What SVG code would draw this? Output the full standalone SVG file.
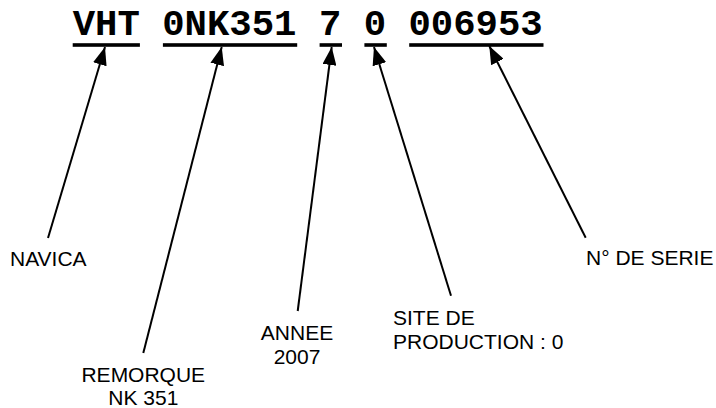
<svg xmlns="http://www.w3.org/2000/svg" width="716" height="408" viewBox="0 0 716 408">
<defs>
<style>
.code{font-family:"Liberation Mono","Courier New",monospace;font-weight:bold;font-size:37.3px;fill:#000}
.lbl{font-family:"Liberation Sans",Arial,sans-serif;font-size:21px;fill:#000}
.bar{fill:#000}
.conn line{stroke:#000;stroke-width:2;marker-end:url(#ah)}
</style>
<marker id="ah" markerUnits="userSpaceOnUse" markerWidth="18" markerHeight="14" refX="18" refY="7" orient="auto">
<path d="M0,0 L18,7 L0,14 z" fill="#000"/>
</marker>
</defs>
<rect width="716" height="408" fill="#fff"/>
<g id="code">
<text class="code" x="72.7" y="35" xml:space="preserve">VHT 0NK351 7 0 006953</text>
<rect class="bar" x="72.7" y="43.2" width="67.2" height="3.6"/>
<rect class="bar" x="162.9" y="43.2" width="134.3" height="3.6"/>
<rect class="bar" x="319.6" y="43.2" width="22.4" height="3.6"/>
<rect class="bar" x="364.4" y="43.2" width="22.4" height="3.6"/>
<rect class="bar" x="409.2" y="43.2" width="134.3" height="3.6"/>
</g>
<g class="conn" id="connectors">
<line x1="48" y1="238" x2="105" y2="47"/>
<line x1="143.3" y1="353" x2="221.7" y2="47"/>
<line x1="297.7" y1="311" x2="331.7" y2="47"/>
<line x1="451" y1="295.7" x2="374" y2="47"/>
<line x1="585.7" y1="237.7" x2="489.3" y2="46"/>
</g>
<g id="navica"><text class="lbl" x="10" y="266">NAVICA</text></g>
<g id="remorque"><text class="lbl" x="143.3" y="381.7" text-anchor="middle">REMORQUE</text><text class="lbl" x="143.3" y="405" text-anchor="middle">NK 351</text></g>
<g id="annee"><text class="lbl" x="297" y="340" text-anchor="middle">ANNEE</text><text class="lbl" x="297" y="364" text-anchor="middle">2007</text></g>
<g id="site"><text class="lbl" x="393" y="325">SITE DE</text><text class="lbl" x="393" y="348.5">PRODUCTION : 0</text></g>
<g id="serie"><text class="lbl" x="586" y="265">N° DE SERIE</text></g>
</svg>
